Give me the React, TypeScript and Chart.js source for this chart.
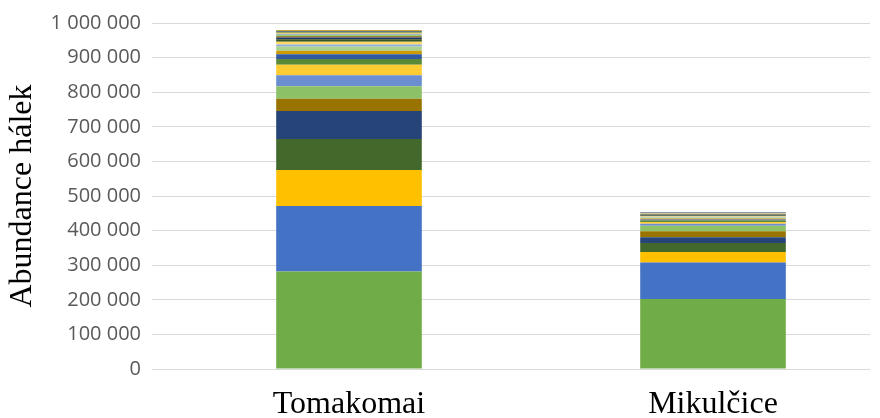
import { useEffect, useRef } from 'react';
import { Chart, registerables } from 'chart.js';

Chart.register(...registerables);

// Sampling sites shown on the category axis
const sites = ['Tomakomai', 'Mikulčice'];

// Abundance of each taxon (stacked from the bottom), per site
const tomakomai = [
  282000, 189000, 104000, 90000, 81000, 35000, 36000, 32000, 30000, 17000, 14000, 10000,
  12000, 6000, 8000, 7000, 5000, 4000, 4000, 3000, 3000, 3000, 2000, 2000,
];
const mikulcice = [
  202000, 106000, 30000, 26000, 17000, 17000, 16000, 6000, 5000, 4000, 3000, 3000,
  3000, 2000, 2000, 2000, 2000, 1000, 1000, 1000, 1000, 1000, 1000, 1000,
];

// Series colours (green / blue / gold with darker and lighter variants)
const seriesColors = [
  '#70AD47', '#4472C4', '#FFC000',
  '#43682B', '#264478', '#997300',
  '#8CC168', '#6A8ED0', '#FFCD33',
  '#5A8A39', '#335AA1', '#CC9A00',
  '#A9D18E', '#8FABDC', '#FFD966',
  '#385623', '#203864', '#806000',
  '#9AC97B', '#7C9CD6', '#FFD34D',
  '#4E7932', '#2C4F8D', '#B38600',
];

// Value axis range
const yMax = 1000000;
const yStep = 100000;

const fmt = (v: number) => String(Math.round(v)).replace(/\B(?=(\d{3})+(?!\d))/g, ' ');

export default function App() {
  const ref = useRef<HTMLCanvasElement | null>(null);

  useEffect(() => {
    if (!ref.current) return;
    const datasets = seriesColors.map((color, i) => ({
      data: [
        { x: 0, y: tomakomai[i] },
        { x: 1, y: mikulcice[i] },
      ],
      backgroundColor: color,
      borderWidth: 0,
      categoryPercentage: 0.4,
      barPercentage: 1,
    }));

    const chart = new Chart(ref.current, {
      type: 'bar',
      data: { datasets },
      options: {
        animation: false,
        responsive: false,
        layout: { padding: { top: 23, right: 10, left: 0, bottom: 0 } },
        plugins: { legend: { display: false }, tooltip: { enabled: false } },
        scales: {
          x: {
            type: 'linear',
            stacked: true,
            offset: false,
            min: -0.5412,
            max: 1.4313,
            afterBuildTicks: (scale: any) => {
              scale.ticks = sites.map((_, i) => ({ value: i }));
            },
            afterFit: (scale: any) => {
              scale.height = 49;
            },
            grid: { display: false, drawTicks: false, offset: false },
            border: { display: false },
            ticks: {
              padding: 20,
              color: '#000000',
              font: { family: '"Liberation Serif", "Times New Roman", serif', size: 32, lineHeight: 1 },
              callback: (v: any) => sites[Number(v)] ?? '',
            },
          },
          y: {
            stacked: true,
            min: 0,
            max: yMax,
            afterFit: (scale: any) => {
              scale.width = 152;
            },
            grid: { color: '#D9D9D9', lineWidth: 1, drawTicks: false },
            border: { display: false },
            ticks: {
              stepSize: yStep,
              padding: 11,
              color: '#595959',
              font: { family: '"Open Sans", sans-serif', size: 20 },
              callback: (v: any) => fmt(Number(v)),
            },
            title: {
              display: true,
              text: 'Abundance hálek',
              color: '#000000',
              padding: { top: 7, bottom: 0 },
              font: { family: '"Liberation Serif", "Times New Roman", serif', size: 32, lineHeight: 1 },
            },
          },
        },
      },
    } as any);

    return () => chart.destroy();
  }, []);

  return (
    <div style={{ position: 'fixed', left: 0, top: 0, width: 880, height: 418, background: '#ffffff' }}>
      <canvas ref={ref} width={880} height={418} style={{ display: 'block' }} />
    </div>
  );
}
